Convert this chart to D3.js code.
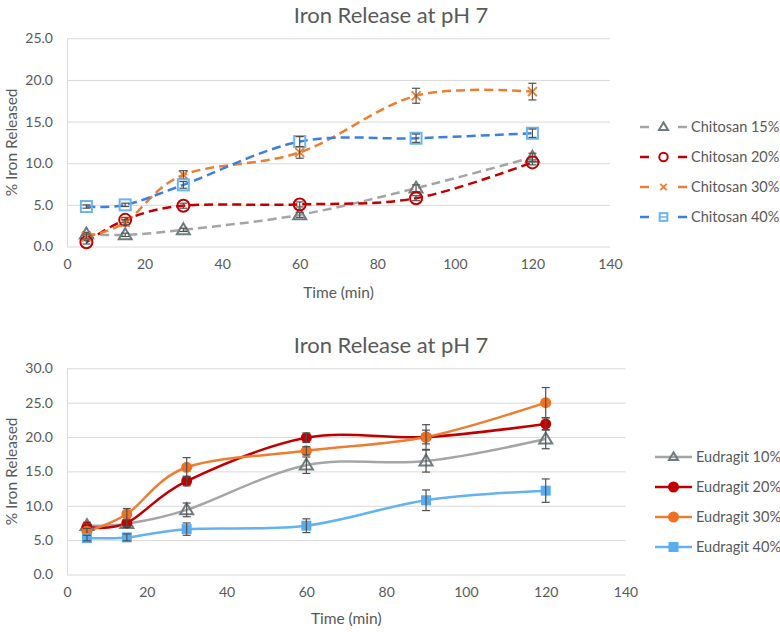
<!DOCTYPE html>
<html><head><meta charset="utf-8">
<script src="https://cdn.jsdelivr.net/npm/d3@7"></script>
<style>body{margin:0;background:#fff}svg{display:block;font-family:Lato,"Liberation Sans",sans-serif}</style>
</head><body><svg id="c" width="780" height="632"></svg>
<script>
const times = [5, 15, 30, 60, 90, 120];
const xTicks = [0, 20, 40, 60, 80, 100, 120, 140];
const topTitle = "Iron Release at pH 7";
const bottomTitle = "Iron Release at pH 7";
const yTitle = "% Iron Released";
const xTitle = "Time (min)";

const chitosanLabels = ["Chitosan 15%", "Chitosan 20%", "Chitosan 30%", "Chitosan 40%"];
const chitosan15 = [1.5, 1.4, 2.0, 3.8, 7.0, 10.7];
const chitosan15Err = [0.2, 0.2, 0.2, 0.3, 0.4, 0.5];
const chitosan20 = [0.5, 3.2, 4.9, 5.05, 5.8, 10.1];
const chitosan20Err = [0.2, 0.3, 0.3, 0.3, 0.3, 0.3];
const chitosan30 = [1.2, 2.9, 8.6, 11.3, 18.1, 18.6];
const chitosan30Err = [0.3, 0.3, 0.5, 0.7, 0.9, 1.0];
const chitosan40 = [4.8, 5.0, 7.4, 12.6, 13.0, 13.6];
const chitosan40Err = [0.2, 0.2, 0.4, 0.6, 0.5, 0.5];
const topYTicks = [0, 5, 10, 15, 20, 25];

const eudragitLabels = ["Eudragit 10%", "Eudragit 20%", "Eudragit 30%", "Eudragit 40%"];
const eudragit10 = [7.1, 7.4, 9.4, 15.9, 16.5, 19.7];
const eudragit10Err = [0.5, 0.5, 1.0, 1.2, 1.6, 1.4];
const eudragit20 = [6.9, 7.5, 13.6, 19.9, 20.0, 21.9];
const eudragit20Err = [0.5, 0.5, 0.7, 0.7, 1.0, 0.9];
const eudragit30 = [6.3, 8.8, 15.6, 18.0, 20.0, 25.0];
const eudragit30Err = [0.4, 0.8, 1.4, 0.6, 1.8, 2.2];
const eudragit40 = [5.3, 5.4, 6.6, 7.1, 10.8, 12.2];
const eudragit40Err = [0.4, 0.5, 0.9, 1.0, 1.5, 1.7];
const bottomYTicks = [0, 5, 10, 15, 20, 25, 30];

const svg = d3.select("#c");
const TXT = "#595959", GRID = "#D9D9D9", ERR = "#505050";

function drawChart(cfg) {
  const x = d3.scaleLinear().domain([0, 140]).range([cfg.x0, cfg.x1]);
  const y = d3.scaleLinear().domain([0, cfg.yMax]).range([cfg.y0, cfg.y1]);
  const g = svg.append("g");
  g.selectAll(".grid").data(cfg.yTicks).enter().append("line")
    .attr("x1", cfg.x0).attr("x2", cfg.x1)
    .attr("y1", d => y(d) + 0.5).attr("y2", d => y(d) + 0.5)
    .attr("stroke", GRID).attr("stroke-width", 1);
  g.append("line").attr("x1", cfg.x0 + 0.5).attr("x2", cfg.x0 + 0.5)
    .attr("y1", cfg.y1).attr("y2", cfg.y0).attr("stroke", GRID);
  const ya = d3.axisLeft(y).tickValues(cfg.yTicks).tickFormat(d3.format(".1f")).tickSize(0).tickPadding(14);
  const yg = g.append("g").attr("transform", `translate(${cfg.x0},0)`).call(ya);
  yg.select(".domain").remove();
  yg.selectAll("text").attr("fill", TXT).style("font-size", "14px").style("font-family", "Lato");
  const xa = d3.axisBottom(x).tickValues(xTicks).tickSize(0).tickPadding(13);
  const xg = g.append("g").attr("transform", `translate(0,${cfg.y0})`).call(xa);
  xg.select(".domain").remove();
  xg.selectAll("text").attr("fill", TXT).style("font-size", "14px").style("font-family", "Lato");
  g.append("text").attr("x", 391).attr("y", cfg.titleY).attr("text-anchor", "middle")
    .attr("fill", TXT).style("font-size", "22px").text(cfg.title);
  g.append("text").attr("transform", `translate(17,${(cfg.y0 + cfg.y1) / 2}) rotate(-90)`)
    .attr("text-anchor", "middle").attr("fill", TXT).style("font-size", "15.5px").text(yTitle);
  g.append("text").attr("x", (cfg.x0 + cfg.x1) / 2).attr("y", cfg.xTitleY).attr("text-anchor", "middle")
    .attr("fill", TXT).style("font-size", "15.5px").text(xTitle);

  const line = d3.line().x((d, i) => x(times[i])).y(d => y(d)).curve(d3.curveCardinal.tension(0));
  cfg.series.forEach(s => {
    g.append("path").attr("d", line(s.values)).attr("fill", "none")
      .attr("stroke", s.color).attr("stroke-width", cfg.lineWidth)
      .attr("stroke-dasharray", cfg.dash || null);
  });
  cfg.series.forEach(s => {
    s.values.forEach((v, i) => drawMarker(g, s.marker, x(times[i]), y(v), s, 1));
    s.values.forEach((v, i) => {
      const e = s.err[i];
      const cx = x(times[i]);
      const eg = g.append("g").attr("stroke", ERR).attr("stroke-width", 1.2);
      eg.append("line").attr("x1", cx).attr("x2", cx).attr("y1", y(v + e)).attr("y2", y(v - e));
      eg.append("line").attr("x1", cx - 4).attr("x2", cx + 4).attr("y1", y(v + e)).attr("y2", y(v + e));
      eg.append("line").attr("x1", cx - 4).attr("x2", cx + 4).attr("y1", y(v - e)).attr("y2", y(v - e));
    });
  });
  cfg.series.forEach((s, i) => {
    const ly = cfg.legY + i * 30;
    if (cfg.dash) {
      g.append("line").attr("x1", cfg.legX0).attr("x2", cfg.legX0 + 9).attr("y1", ly).attr("y2", ly)
        .attr("stroke", s.color).attr("stroke-width", 2.5);
      g.append("line").attr("x1", cfg.legX1 - 9).attr("x2", cfg.legX1).attr("y1", ly).attr("y2", ly)
        .attr("stroke", s.color).attr("stroke-width", 2.5);
    } else {
      g.append("line").attr("x1", cfg.legX0).attr("x2", cfg.legX1).attr("y1", ly).attr("y2", ly)
        .attr("stroke", s.color).attr("stroke-width", 2.5);
    }
    drawMarker(g, s.marker, (cfg.legX0 + cfg.legX1) / 2, ly, s, 0.7);
    g.append("text").attr("x", cfg.legX1 + 4).attr("y", ly).attr("dy", "0.35em")
      .attr("fill", TXT).style("font-size", "14.5px").text(s.label);
  });
}

function drawMarker(g, type, cx, cy, s, k) {
  const m = s.markerColor;
  if (type === "triOpen") {
    const h = 11 * k, w = 13 * k;
    g.append("path").attr("d", `M${cx},${cy - h * 0.6}L${cx + w / 2},${cy + h * 0.4}L${cx - w / 2},${cy + h * 0.4}Z`)
      .attr("fill", "none").attr("stroke", m).attr("stroke-width", 2);
  } else if (type === "circOpen") {
    g.append("circle").attr("cx", cx).attr("cy", cy).attr("r", 6 * k)
      .attr("fill", "none").attr("stroke", m).attr("stroke-width", 2);
  } else if (type === "xMark") {
    const r = 4.5 * k;
    g.append("path").attr("d", `M${cx - r},${cy - r}L${cx + r},${cy + r}M${cx - r},${cy + r}L${cx + r},${cy - r}`)
      .attr("stroke", m).attr("stroke-width", 1.8);
  } else if (type === "sqOpen") {
    const a = 11 * k;
    g.append("rect").attr("x", cx - a / 2).attr("y", cy - a / 2).attr("width", a).attr("height", a)
      .attr("fill", "none").attr("stroke", m).attr("stroke-width", 2);
    if (k < 1) g.append("line").attr("x1", cx - a / 2).attr("x2", cx + a / 2).attr("y1", cy).attr("y2", cy).attr("stroke", m).attr("stroke-width", 1.5);
  } else if (type === "circFill") {
    g.append("circle").attr("cx", cx).attr("cy", cy).attr("r", 5.5).attr("fill", m);
  } else if (type === "sqFill") {
    const a = 10;
    g.append("rect").attr("x", cx - a / 2).attr("y", cy - a / 2).attr("width", a).attr("height", a).attr("fill", m);
  }
}

drawChart({
  x0: 67, x1: 610, y0: 246.5, y1: 38.3, yMax: 25, yTicks: topYTicks,
  title: topTitle, titleY: 23, xTitleY: 298, lineWidth: 2.5, dash: "9,5",
  legX0: 640, legX1: 687, legY: 127,
  series: [
    { label: chitosanLabels[0], values: chitosan15, err: chitosan15Err, color: "#A5A5A5", markerColor: "#6E7C7E", marker: "triOpen" },
    { label: chitosanLabels[1], values: chitosan20, err: chitosan20Err, color: "#C00000", markerColor: "#C00000", marker: "circOpen" },
    { label: chitosanLabels[2], values: chitosan30, err: chitosan30Err, color: "#ED7D31", markerColor: "#ED7D31", marker: "xMark" },
    { label: chitosanLabels[3], values: chitosan40, err: chitosan40Err, color: "#3C7FDE", markerColor: "#6CB4EE", marker: "sqOpen" }
  ]
});

drawChart({
  x0: 67, x1: 625.5, y0: 574.5, y1: 368.3, yMax: 30, yTicks: bottomYTicks,
  title: bottomTitle, titleY: 353, xTitleY: 624, lineWidth: 2.5, dash: null,
  legX0: 655, legX1: 692, legY: 457,
  series: [
    { label: eudragitLabels[0], values: eudragit10, err: eudragit10Err, color: "#A5A5A5", markerColor: "#6E7C7E", marker: "triOpen" },
    { label: eudragitLabels[1], values: eudragit20, err: eudragit20Err, color: "#C00000", markerColor: "#C00000", marker: "circFill" },
    { label: eudragitLabels[2], values: eudragit30, err: eudragit30Err, color: "#ED7D31", markerColor: "#F07020", marker: "circFill" },
    { label: eudragitLabels[3], values: eudragit40, err: eudragit40Err, color: "#63B3F2", markerColor: "#5AAEF0", marker: "sqFill" }
  ]
});
</script></body></html>
